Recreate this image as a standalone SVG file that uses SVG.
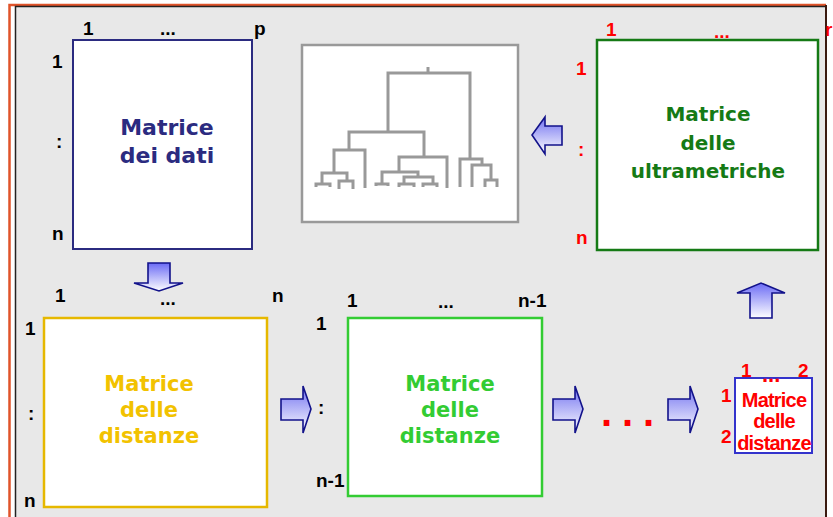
<svg xmlns="http://www.w3.org/2000/svg" width="833" height="517" viewBox="0 0 833 517">
<defs>
<linearGradient id="gv" x1="0" y1="0" x2="0" y2="1"><stop offset="0" stop-color="#6b6bf5"/><stop offset="1" stop-color="#ffffff"/></linearGradient>
<linearGradient id="gh" x1="0" y1="0" x2="0" y2="1"><stop offset="0" stop-color="#7070f0"/><stop offset="1" stop-color="#ffffff"/></linearGradient>
<style>
.arr{stroke:#12128a;stroke-width:1.6;stroke-linejoin:miter}
.lb{font-family:"Liberation Sans",Arial,sans-serif;font-weight:bold;font-size:19px;fill:#000}
.rd{fill:#ff0000}
.big{font-family:"DejaVu Sans",Verdana,sans-serif;font-weight:bold;text-anchor:middle}
.den{fill:none;stroke:#999;stroke-width:3}
</style>
</defs>
<rect x="0" y="0" width="833" height="517" fill="#fff"/>
<rect x="16" y="7" width="810" height="512" fill="#e8e8e8"/>
<path d="M9.5 517V5H826" fill="none" stroke="#e0532a" stroke-width="2.5"/>
<path d="M15.5 517V6.5H826" fill="none" stroke="#222" stroke-width="1.5"/>
<path d="M826 5V517" fill="none" stroke="#3a1a10" stroke-width="2"/>

<g id="dati">
<rect x="73" y="40" width="179" height="209" fill="#fff" stroke="#2b2b80" stroke-width="2"/>
<text class="lb" x="83" y="35">1</text><text class="lb" x="160" y="35">...</text><text class="lb" x="254" y="35">p</text>
<text class="lb" x="52" y="68">1</text><text class="lb" x="56" y="148">:</text><text class="lb" x="52" y="240">n</text>
<text class="big" fill="#2b2b80" font-size="22"><tspan x="167" y="135">Matrice</tspan><tspan x="167" y="163">dei dati</tspan></text>
</g>

<g id="dendrogramma">
<rect x="302" y="45" width="216" height="177" fill="#fff" stroke="#999" stroke-width="2.5"/>
<path class="den" d="M428 67V73M388 132V73H470V159M349 150V132H424V157M334 173V150H365V188M322 184V173H347V181M316 187V184H330V187M339 189V181H353V189M399 172V157H447V188M382 184V172H418V177M376 186V184H388V186M404 184V177H433V184M399 187V184H414V187M423 187V184H437V187M460 187V159H482V165M472 187V165H491V180M485 187V180H497V187"/>
</g>

<g id="ultrametriche">
<rect x="597" y="40" width="221" height="210" fill="#fff" stroke="#157a15" stroke-width="2.5"/>
<text class="lb rd" x="606" y="36">1</text><text class="lb rd" x="714" y="38">...</text><text class="lb rd" x="825" y="36">r</text>
<text class="lb rd" x="576" y="75">1</text><text class="lb rd" x="578" y="156">:</text><text class="lb rd" x="576" y="244">n</text>
<text class="big" fill="#157a15" font-size="20"><tspan x="708" y="121">Matrice</tspan><tspan x="708" y="150">delle</tspan><tspan x="708" y="178">ultrametriche</tspan></text>
</g>

<g id="distanze1">
<rect x="44" y="318" width="223" height="189" fill="#fff" stroke="#e6b800" stroke-width="2.5"/>
<text class="lb" x="55" y="302">1</text><text class="lb" x="160" y="305">...</text><text class="lb" x="272" y="302">n</text>
<text class="lb" x="25" y="335">1</text><text class="lb" x="28" y="420">:</text><text class="lb" x="24" y="507">n</text>
<text class="big" fill="#f2c200" font-size="21"><tspan x="149" y="391">Matrice</tspan><tspan x="149" y="417">delle</tspan><tspan x="149" y="443">distanze</tspan></text>
</g>

<g id="distanze2">
<rect x="348" y="318" width="194" height="178" fill="#fff" stroke="#33cc33" stroke-width="2.5"/>
<text class="lb" x="347" y="307">1</text><text class="lb" x="438" y="308">...</text><text class="lb" x="518" y="307">n-1</text>
<text class="lb" x="316" y="330">1</text><text class="lb" x="318" y="414">:</text><text class="lb" x="316" y="487">n-1</text>
<text class="big" fill="#33cc33" font-size="21"><tspan x="450" y="391">Matrice</tspan><tspan x="450" y="417">delle</tspan><tspan x="450" y="443">distanze</tspan></text>
</g>

<g id="distanze3">
<rect x="735" y="378" width="77" height="75" fill="#fff" stroke="#3333cc" stroke-width="2"/>
<text class="lb rd" x="741" y="377">1</text><text class="lb rd" style="font-size:22px" x="762" y="382">...</text><text class="lb rd" x="798" y="377">2</text>
<text class="lb rd" x="721" y="402">1</text><text class="lb rd" x="721" y="443">2</text>
<text font-family="Liberation Sans,Arial,sans-serif" font-weight="bold" font-size="20" fill="#ff0000" text-anchor="middle" letter-spacing="-0.8"><tspan x="774" y="407">Matrice</tspan><tspan x="774" y="428">delle</tspan><tspan x="774" y="450">distanze</tspan></text>
</g>

<text class="lb rd" style="font-size:40px" x="601 622 643" y="426">...</text>

<g id="connettori">
<path class="arr" fill="url(#gv)" d="M148 263H170V283H183L159 291L134 283H148Z"/>
<path class="arr" fill="url(#gv)" d="M750 318V293H737L761 283L785 293H772V318Z"/>
<path class="arr" fill="url(#gh)" d="M281 399H303V386L311 409L303 433V420H281Z"/>
<path class="arr" fill="url(#gh)" d="M553 399H575V386L583 409L575 433V420H553Z"/>
<path class="arr" fill="url(#gh)" d="M668 399H690V386L698 409L690 433V420H668Z"/>
<path class="arr" fill="url(#gh)" d="M562 126V145H545V154L532 135L545 117V126Z"/>
</g>
</svg>
